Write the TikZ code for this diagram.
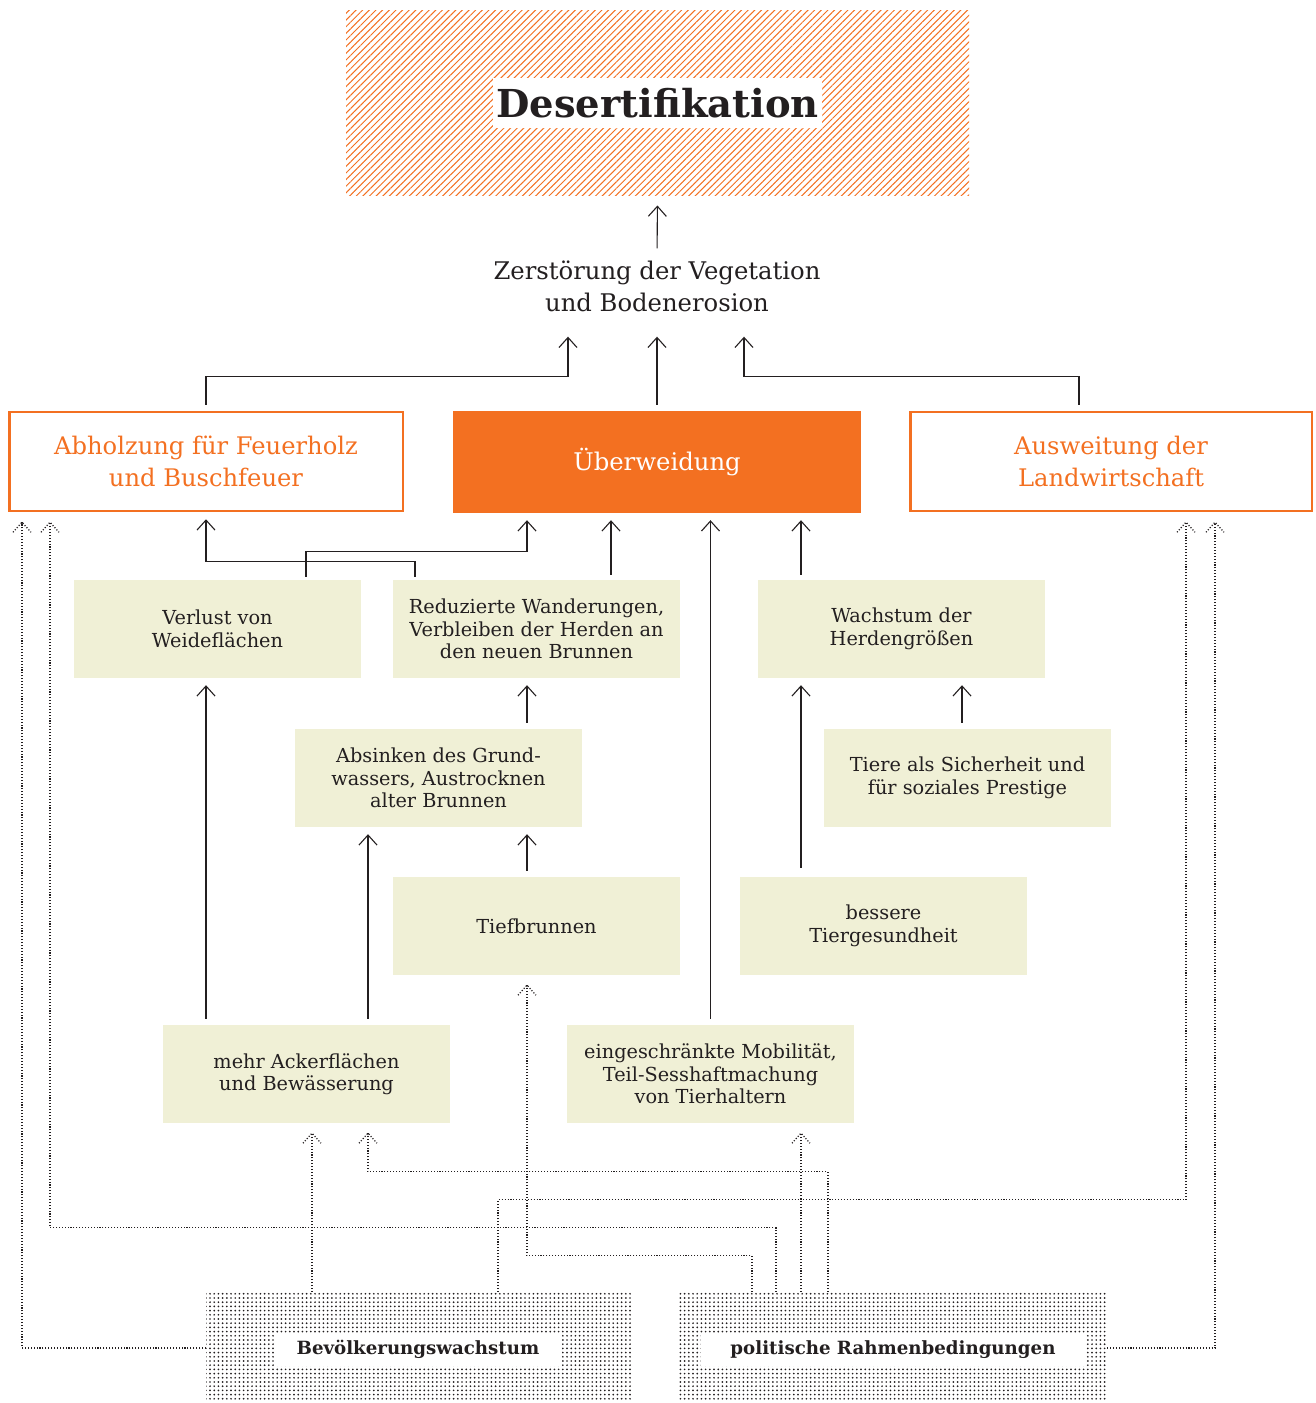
\documentclass[tikz,border=0pt]{standalone}
\usepackage{fontspec}
\setmainfont{DejaVu Serif}
\usetikzlibrary{arrows.meta, patterns.meta, decorations.markings}

\definecolor{orng}{HTML}{F37021}
\definecolor{beige}{HTML}{F0F0D6}
\definecolor{ink}{HTML}{231F20}

\begin{document}
\begin{tikzpicture}[
  x=1pt, y=1pt,
  hatched/.style = {rectangle, inner sep=0pt, pattern={Lines[angle=45, distance=4.7pt, line width=1pt]}, pattern color=orng},
  dotbox/.style = {rectangle, inner sep=0pt, minimum height=108pt, pattern={Dots[radius=0.95pt, distance=4.2pt]}, pattern color=ink},
  tag/.style = {rectangle, fill=white, text=ink, inner sep=0pt, minimum height=33pt, font=\bfseries\fontsize{18.2}{21}\selectfont},
  cause/.style = {rectangle, draw=orng, line width=2.5pt, text=orng, align=center, inner sep=0pt, minimum height=99pt, font=\fontsize{24.2}{32}\selectfont},
  card/.style = {rectangle, fill=beige, text=ink, align=center, inner sep=0pt, minimum width=287pt, minimum height=98pt, font=\fontsize{19.3}{22.5}\selectfont},
  arrow/.style = {-{Straight Barb[length=10pt, width=18pt]}, line width=1.1pt, draw=ink, shorten <=6pt, shorten >=7pt},
  dotarrow/.style = {line width=1.3pt, draw=ink, dash pattern=on 1.1pt off 1.8pt,
    postaction={decorate, decoration={markings, mark=at position 1 with {\draw[line width=1.3pt, dash pattern=on 1.1pt off 1.8pt] (-10pt,9pt) -- (0,0) -- (-10pt,-9pt);}}}}
]
\useasboundingbox (0,0) rectangle (1316,-1403);

% Top: the result
\node[hatched, minimum width=623pt, minimum height=185pt] (desert) at (657.5,-102.5) {};
\node[rectangle, fill=white, text=ink, inner sep=0pt, minimum width=329pt, minimum height=50pt, font=\bfseries\fontsize{38.5}{44}\selectfont] (desertlabel) at (657.5,-103) {Desertifikation};
\node[align=center, text=ink, inner sep=0pt, font=\fontsize{24.3}{32}\selectfont] (zer) at (657,-286) {Zerstörung der Vegetation\\und Bodenerosion};

% Row 1: the three causes
\node[cause, minimum width=393.5pt] (abholz) at (206,-461.5) {Abholzung für Feuerholz\\und Buschfeuer};
\node[rectangle, fill=orng, text=white, inner sep=0pt, minimum width=408pt, minimum height=102pt, font=\fontsize{24.3}{32}\selectfont] (ueber) at (657,-462) {Überweidung};
\node[cause, minimum width=401.5pt] (auswei) at (1111,-461.5) {Ausweitung der\\Landwirtschaft};

% Row 2
\node[card] (verlust) at (217.5,-629) {Verlust von\\Weideflächen};
\node[card] (reduz) at (536.5,-629) {Reduzierte Wanderungen,\\Verbleiben der Herden an\\den neuen Brunnen};
\node[card] (wachs) at (901.5,-629) {Wachstum der\\Herdengrößen};

% Row 3
\node[card] (absink) at (438.5,-778) {Absinken des Grund-\\wassers, Austrocknen\\alter Brunnen};
\node[card] (tiere) at (967.5,-778) {Tiere als Sicherheit und\\für soziales Prestige};

% Row 4
\node[card] (tief) at (536.5,-926) {Tiefbrunnen};
\node[card] (bess) at (883.5,-926) {bessere\\Tiergesundheit};

% Row 5
\node[card] (acker) at (306.5,-1074) {mehr Ackerflächen\\und Bewässerung};
\node[card] (eing) at (710.5,-1074) {eingeschränkte Mobilität,\\Teil-Sesshaftmachung\\von Tierhaltern};

% Bottom: the drivers
\node[dotbox, minimum width=427pt] (bev) at (419.5,-1346) {};
\node[tag, minimum width=288pt] (bevlabel) at (418,-1349.5) {Bevölkerungswachstum};
\node[dotbox, minimum width=429pt] (pol) at (892.5,-1346) {};
\node[tag, minimum width=384pt] (pollabel) at (893,-1349.5) {politische Rahmenbedingungen};

% Arrows to the top
\draw[arrow, shorten <=12pt, shorten >=10pt] (zer.north) -- (desert.south);
\draw[arrow, shorten >=25pt] (abholz.north) -- ++(0,34) -| ([xshift=-89pt]zer.south);
\draw[arrow, shorten >=25pt] (ueber.north) -- (zer.south);
\draw[arrow, shorten >=25pt] ([xshift=-32pt]auswei.north) -- ++(0,34) -| ([xshift=87pt]zer.south);

% Arrows to the causes
\draw[arrow, shorten <=3pt] ([xshift=88.5pt]verlust.north) -- ++(0,28) -| ([xshift=-130pt]ueber.south);
\draw[arrow, shorten <=3pt] ([xshift=-121.5pt]reduz.north) -- ++(0,18) -| (abholz.south);
\draw[arrow, shorten <=5pt] ([xshift=74.5pt]reduz.north) -- ([xshift=-46pt]ueber.south);
\draw[arrow, shorten <=5pt] ([xshift=-100.5pt]wachs.north) -- ([xshift=144pt]ueber.south);
\draw[arrow] (eing.north) -- ([xshift=53.5pt]ueber.south);

% Arrows between the cards
\draw[arrow] ([xshift=88.5pt]absink.north) -- ([xshift=-9.5pt]reduz.south);
\draw[arrow] ([xshift=-9.5pt]tief.north) -- ([xshift=88.5pt]absink.south);
\draw[arrow] ([xshift=-100.5pt]acker.north) -- ([xshift=-11.5pt]verlust.south);
\draw[arrow] ([xshift=61.5pt]acker.north) -- ([xshift=-70.5pt]absink.south);
\draw[arrow] ([xshift=-5.5pt]tiere.north) -- ([xshift=60.5pt]wachs.south);
\draw[arrow, shorten <=9pt] ([xshift=-82.5pt]bess.north) -- ([xshift=-100.5pt]wachs.south);

% Dotted arrows from the drivers
\draw[dotarrow] ([yshift=-2pt]bev.west) -| ([xshift=-184pt, yshift=-10pt]abholz.south);
\draw[dotarrow] ([xshift=-107.5pt]bev.north) -- ([xshift=5.5pt, yshift=-10pt]acker.south);
\draw[dotarrow] ([xshift=78.5pt]bev.north) -- ++(0,92) -| ([xshift=75pt, yshift=-10pt]auswei.south);
\draw[dotarrow] ([yshift=-2pt]pol.east) -| ([xshift=104pt, yshift=-10pt]auswei.south);
\draw[dotarrow] ([xshift=-116.5pt]pol.north) -- ++(0,64) -| ([xshift=-156pt, yshift=-10pt]abholz.south);
\draw[dotarrow] ([xshift=-140.5pt]pol.north) -- ++(0,36) -| ([xshift=-9.5pt, yshift=-10pt]tief.south);
\draw[dotarrow] ([xshift=-91.5pt]pol.north) -- ([xshift=90.5pt, yshift=-10pt]eing.south);
\draw[dotarrow] ([xshift=-64.5pt]pol.north) -- ++(0,120) -| ([xshift=61.5pt, yshift=-10pt]acker.south);

\end{tikzpicture}
\end{document}
